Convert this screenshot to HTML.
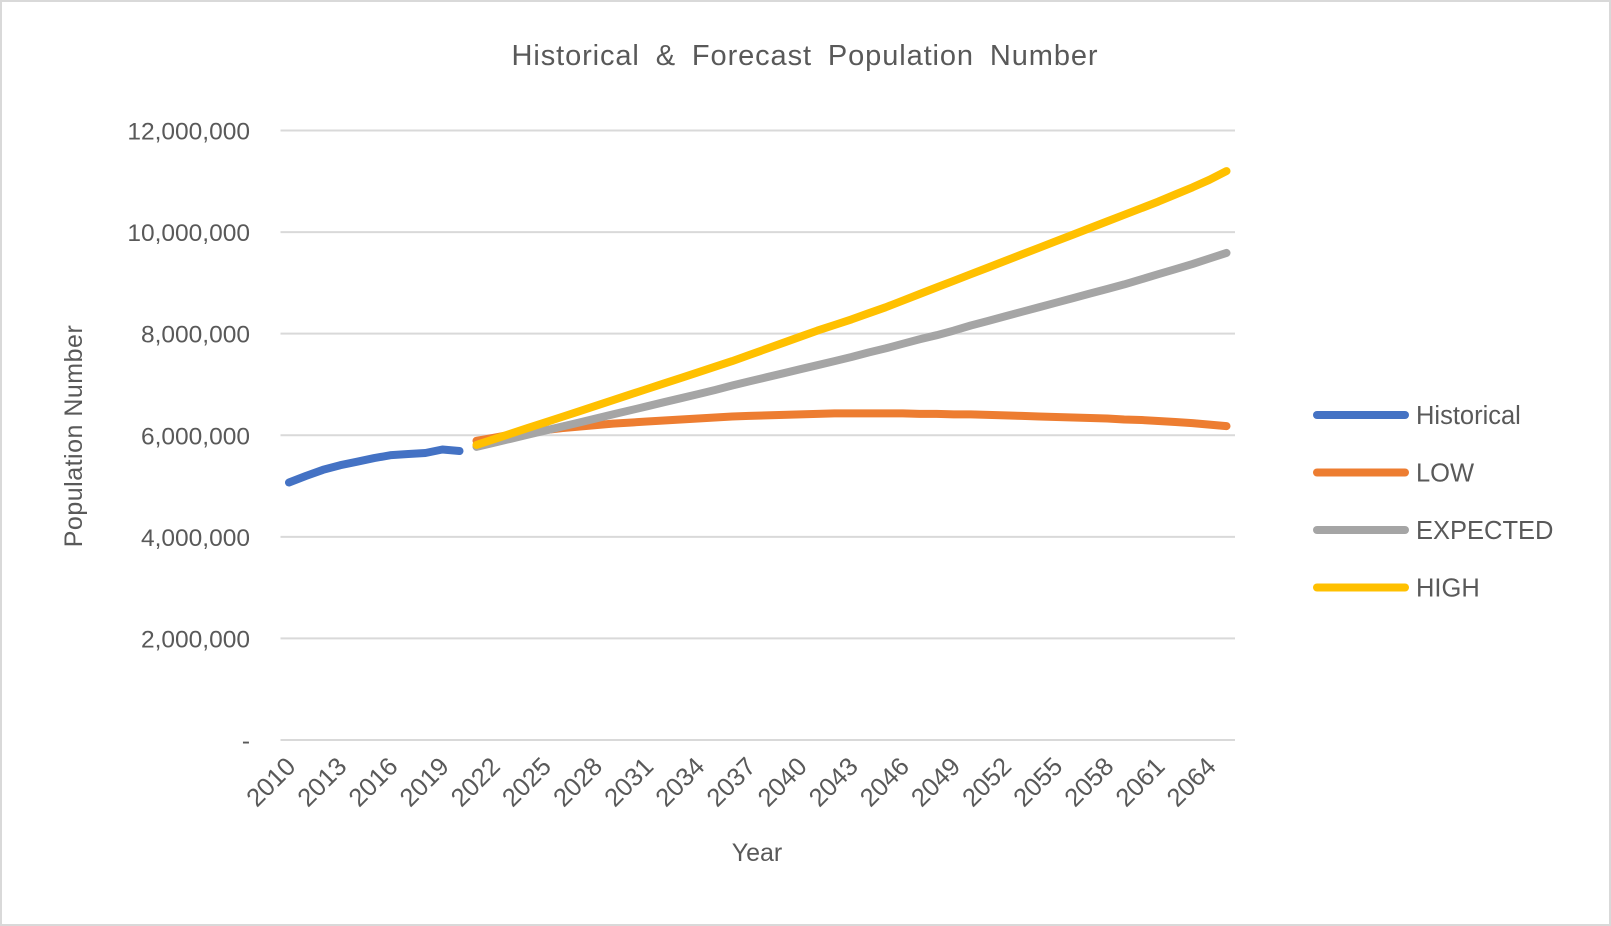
<!DOCTYPE html>
<html><head><meta charset="utf-8"><style>
html,body{margin:0;padding:0;background:#fff}
svg{display:block;font-family:"Liberation Sans",Arial,sans-serif}
</style></head><body>
<svg id="chart" width="1611" height="926" viewBox="0 0 1611 926" xmlns="http://www.w3.org/2000/svg">
<rect x="1" y="1" width="1609" height="924" fill="#fff" stroke="#d9d9d9" stroke-width="2"/>
<text x="805" y="65" text-anchor="middle" font-size="29" letter-spacing="0.9" word-spacing="7" fill="#595959">Historical &amp; Forecast Population Number</text>
<g id="grid"></g>
<g id="yticks"></g>
<g id="xticks"></g>
<g id="series"></g>
<text transform="translate(82,436) rotate(-90)" text-anchor="middle" font-size="25" letter-spacing="0.5" fill="#595959">Population Number</text>
<text x="757" y="861" text-anchor="middle" font-size="25" fill="#595959">Year</text>
<g id="legend"></g>
</svg>
<script>
const years = [];
for (let y = 2010; y <= 2065; y++) years.push(y);
const historical = [5.07,5.20,5.32,5.41,5.48,5.55,5.61,5.63,5.65,5.72,5.69];
const low = [5.89,5.95,6.01,6.06,6.10,6.14,6.17,6.20,6.23,6.25,
 6.27,6.29,6.31,6.33,6.35,6.37,6.38,6.39,6.40,6.41,
 6.42,6.43,6.43,6.43,6.43,6.43,6.42,6.42,6.41,6.41,
 6.40,6.39,6.38,6.37,6.36,6.35,6.34,6.33,6.31,6.30,
 6.28,6.26,6.24,6.21,6.18];
const expected = [5.77,5.85,5.93,6.01,6.09,6.17,6.25,6.33,6.41,6.49,
 6.57,6.65,6.73,6.81,6.89,6.98,7.06,7.14,7.22,7.30,
 7.38,7.46,7.54,7.63,7.71,7.80,7.89,7.97,8.06,
 8.16,8.25,8.34,8.43,8.52,8.61,8.70,8.79,8.88,8.97,9.07,9.17,9.27,9.37,9.48,9.59];
const high = [5.81,5.92,6.03,6.14,6.25,6.36,6.47,6.58,6.69,6.80,6.91,7.02,7.13,7.24,7.35,7.46,7.58,7.70,7.82,7.94,8.06,8.17,8.28,
 8.40,8.52,8.65,8.78,8.91,9.04,9.17,9.30,9.43,9.56,9.69,9.82,9.95,10.08,10.21,10.34,10.47,10.60,10.74,10.88,11.03,11.20];
const yTickValues = [0,2,4,6,8,10,12];
const yTickLabels = ["-","2,000,000","4,000,000","6,000,000","8,000,000","10,000,000","12,000,000"];
const seriesNames = ["Historical","LOW","EXPECTED","HIGH"];
const seriesColors = ["#4472c4","#ed7d31","#a5a5a5","#ffc000"];

const NS = "http://www.w3.org/2000/svg";
const X0 = 280.5, X1 = 1235, Y0 = 740, Y1 = 130.5, YMAX = 12;
const step = (X1 - X0) / years.length;
const xs = i => X0 + step * (i + 0.5);
const ys = v => Y0 - (v / YMAX) * (Y0 - Y1);
function mk(tag, attrs, parent){const e=document.createElementNS(NS,tag);for(const k in attrs)e.setAttribute(k,attrs[k]);parent.appendChild(e);return e;}

const grid = document.getElementById('grid');
const yt = document.getElementById('yticks');
yTickValues.forEach((v,i)=>{
  const l = mk('line',{x1:X0,x2:X1,y1:ys(v),y2:ys(v),stroke:'#d9d9d9','stroke-width':2},grid);
  
  
  const t = mk('text',{x:250,y:ys(v)+9,'text-anchor':'end','font-size':24.5,fill:'#595959'},yt);
  t.textContent = yTickLabels[i];
  
  
});
const xt = document.getElementById('xticks');
years.forEach((y,i)=>{
  if ((y-2010)%3!==0) return;
  const x = xs(i)+8, yy = 768;
  const t = mk('text',{x:x,y:yy,'text-anchor':'end','font-size':25.5,fill:'#595959',transform:`rotate(-45 ${x} ${yy})`},xt);
  t.textContent = y;
  
  
});
const sg = document.getElementById('series');
function drawLine(vals, offset, color, name){
  const pts = vals.map((v,i)=>xs(i+offset).toFixed(1)+','+ys(v).toFixed(1)).join(' ');
  const p = mk('polyline',{points:pts,fill:'none',stroke:color,'stroke-width':8,'stroke-linecap':'round','stroke-linejoin':'round'},sg);
  
  
}
drawLine(historical,0,seriesColors[0],'historical-line');
drawLine(low,11,seriesColors[1],'low-line');
drawLine(expected,11,seriesColors[2],'expected-line');
drawLine(high,11,seriesColors[3],'high-line');

const lg = document.getElementById('legend');
seriesNames.forEach((n,i)=>{
  const y = 415 + i*57.5;
  const l = mk('line',{x1:1317,x2:1405,y1:y,y2:y,stroke:seriesColors[i],'stroke-width':8,'stroke-linecap':'round'},lg);
  
  
  const t = mk('text',{x:1416,y:y+9,'font-size':25.5,fill:'#595959'},lg);
  t.textContent = n;
  
  
});
</script>
</body></html>
